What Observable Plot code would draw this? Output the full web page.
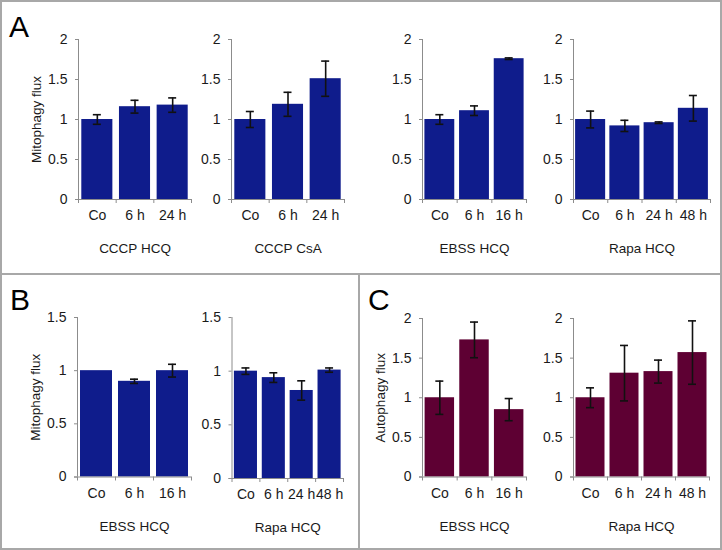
<!DOCTYPE html>
<html><head><meta charset="utf-8">
<script src="https://cdn.jsdelivr.net/npm/d3@7"></script>
<script src="https://cdn.jsdelivr.net/npm/@observablehq/plot@0.6"></script>
<style>
html,body{margin:0;padding:0;background:#fff;}
#root{position:relative;width:722px;height:550px;overflow:hidden;font-family:"Liberation Sans",Arial,sans-serif;}
#root svg{position:absolute;left:0;top:0;}
#root svg text{fill:#1a1a1a;}
.line{position:absolute;background:#a8a8a8;}
.letter{position:absolute;font-size:30px;line-height:30px;color:#000;}
</style></head><body><div id="root"></div>
<script>
// ---- data ----
const catsA1 = ["Co", "6 h", "24 h"];
const valsA1 = [1.00, 1.16, 1.18];
const errA1  = [0.06, 0.08, 0.09];

const catsA2 = ["Co", "6 h", "24 h"];
const valsA2 = [1.00, 1.19, 1.51];
const errA2  = [0.10, 0.15, 0.22];

const catsA3 = ["Co", "6 h", "16 h"];
const valsA3 = [1.00, 1.11, 1.76];
const errA3  = [0.06, 0.06, 0.01];

const catsA4 = ["Co", "6 h", "24 h", "48 h"];
const valsA4 = [1.00, 0.92, 0.96, 1.14];
const errA4  = [0.105, 0.07, 0.01, 0.16];

const catsB1 = ["Co", "6 h", "16 h"];
const valsB1 = [1.00, 0.90, 1.00];
const errB1  = [0, 0.02, 0.06];

const catsB2 = ["Co", "6 h", "24 h", "48 h"];
const valsB2 = [1.00, 0.94, 0.82, 1.01];
const errB2  = [0.03, 0.045, 0.09, 0.02];

const catsC1 = ["Co", "6 h", "16 h"];
const valsC1 = [1.00, 1.73, 0.85];
const errC1  = [0.21, 0.225, 0.14];

const catsC2 = ["Co", "6 h", "24 h", "48 h"];
const valsC2 = [1.00, 1.31, 1.33, 1.57];
const errC2  = [0.125, 0.35, 0.145, 0.40];

const ticks2  = [0, 0.5, 1, 1.5, 2];
const ticks15 = [0, 0.5, 1, 1.5];

const titles = ["CCCP HCQ", "CCCP CsA", "EBSS HCQ", "Rapa HCQ", "EBSS HCQ", "Rapa HCQ", "EBSS HCQ", "Rapa HCQ"];
const yLabelMito = "Mitophagy flux";
const yLabelAuto = "Autophagy flux";
const panelLetters = ["A", "B", "C"];

const blue = "#0f1c8c";
const maroon = "#5e0033";
const axisGray = "#8c8c8c";

// ---- chart builder ----
function chart(cats, vals, errs, o) {
  const n = cats.length;
  const data = cats.map((c, i) => ({c, i, v: vals[i], e: errs[i]}));
  const withErr = data.filter(d => d.e > 0);
  const [x0, x1, y0, y1] = o.frame;
  return Plot.plot({
    width: 722, height: 550,
    marginLeft: x0, marginRight: 722 - x1, marginTop: y0, marginBottom: 550 - y1,
    style: {background: "transparent", color: axisGray, fontFamily: "Liberation Sans, Arial, sans-serif", fontSize: "14px", overflow: "visible"},
    x: {domain: [0, n], axis: null},
    y: {domain: [0, o.ymax], ticks: o.yticks, tickFormat: d => String(d), tickSize: 3, tickPadding: 8, label: null},
    marks: [
      Plot.rectY(data, {x1: d => d.i, x2: d => d.i + 1, y1: 0, y2: "v", fill: o.color, insetLeft: o.inset, insetRight: o.inset}),
      Plot.ruleX([0], {stroke: axisGray}),
      Plot.ruleY([0], {stroke: axisGray, insetLeft: -3}),
      Plot.ruleX(d3.range(n + 1), {x: d => d, y1: 0, y2: 0, insetTop: 0, insetBottom: -4, stroke: axisGray}),
      Plot.ruleX(withErr, {x: d => d.i + 0.5, y1: d => d.v - d.e, y2: d => d.v + d.e, stroke: "#111", strokeWidth: 1.6}),
      Plot.ruleY(withErr, {x1: d => d.i + 0.5, x2: d => d.i + 0.5, y: d => d.v + d.e, insetLeft: -4, insetRight: -4, stroke: "#111", strokeWidth: 1.6}),
      Plot.ruleY(withErr, {x1: d => d.i + 0.5, x2: d => d.i + 0.5, y: d => d.v - d.e, insetLeft: -4, insetRight: -4, stroke: "#111", strokeWidth: 1.6}),
      Plot.text(data, {x: d => d.i + 0.5, text: "c", frameAnchor: "bottom", lineAnchor: "middle", dy: 16.5, fontSize: 14}),
      Plot.text([o.title], {text: d => d, frameAnchor: "bottom", lineAnchor: "middle", textAnchor: "middle", dy: 49.5, fontSize: 13.5}),
      o.ylabel ? Plot.text([o.ylabel], {text: d => d, frameAnchor: "left", textAnchor: "middle", lineAnchor: "middle", dx: -42, rotate: -90, fontSize: 13.5}) : null
    ]
  });
}

const root = document.getElementById("root");
const specs = [
  [catsA1, valsA1, errA1, {frame: [78, 191, 39, 199], ymax: 2, yticks: ticks2, color: blue, inset: 3.3, title: titles[0], ylabel: yLabelMito}],
  [catsA2, valsA2, errA2, {frame: [231, 344, 39, 199], ymax: 2, yticks: ticks2, color: blue, inset: 3.3, title: titles[1]}],
  [catsA3, valsA3, errA3, {frame: [422, 526, 39, 199], ymax: 2, yticks: ticks2, color: blue, inset: 2.4, title: titles[2]}],
  [catsA4, valsA4, errA4, {frame: [573, 710, 39, 199], ymax: 2, yticks: ticks2, color: blue, inset: 2.1, title: titles[3]}],
  [catsB1, valsB1, errB1, {frame: [77, 191, 317, 476.5], ymax: 1.5, yticks: ticks15, color: blue, inset: 3, title: titles[4], ylabel: yLabelMito}],
  [catsB2, valsB2, errB2, {frame: [231.5, 343, 317, 478], ymax: 1.5, yticks: ticks15, color: blue, inset: 2.4, title: titles[5]}],
  [catsC1, valsC1, errC1, {frame: [422, 526, 318, 476.5], ymax: 2, yticks: ticks2, color: maroon, inset: 2.6, title: titles[6], ylabel: yLabelAuto}],
  [catsC2, valsC2, errC2, {frame: [573, 709, 318, 476.5], ymax: 2, yticks: ticks2, color: maroon, inset: 2.5, title: titles[7]}]
];
for (const [c, v, e, o] of specs) root.appendChild(chart(c, v, e, o));

// panel borders
function line(l, t, w, h) {
  const d = document.createElement("div");
  d.className = "line";
  Object.assign(d.style, {left: l + "px", top: t + "px", width: w + "px", height: h + "px"});
  root.appendChild(d);
}
line(0, 0, 722, 2);
line(0, 548, 722, 2);
line(0, 0, 2, 550);
line(720, 0, 2, 550);
line(0, 273, 722, 2);
line(358, 273, 2, 277);

// panel letters
[[panelLetters[0], 9, 11.5], [panelLetters[1], 10, 284.5], [panelLetters[2], 368, 284.5]].forEach(([t, l, top]) => {
  const d = document.createElement("div");
  d.className = "letter";
  d.textContent = t;
  d.style.left = l + "px";
  d.style.top = top + "px";
  root.appendChild(d);
});
</script></body></html>
